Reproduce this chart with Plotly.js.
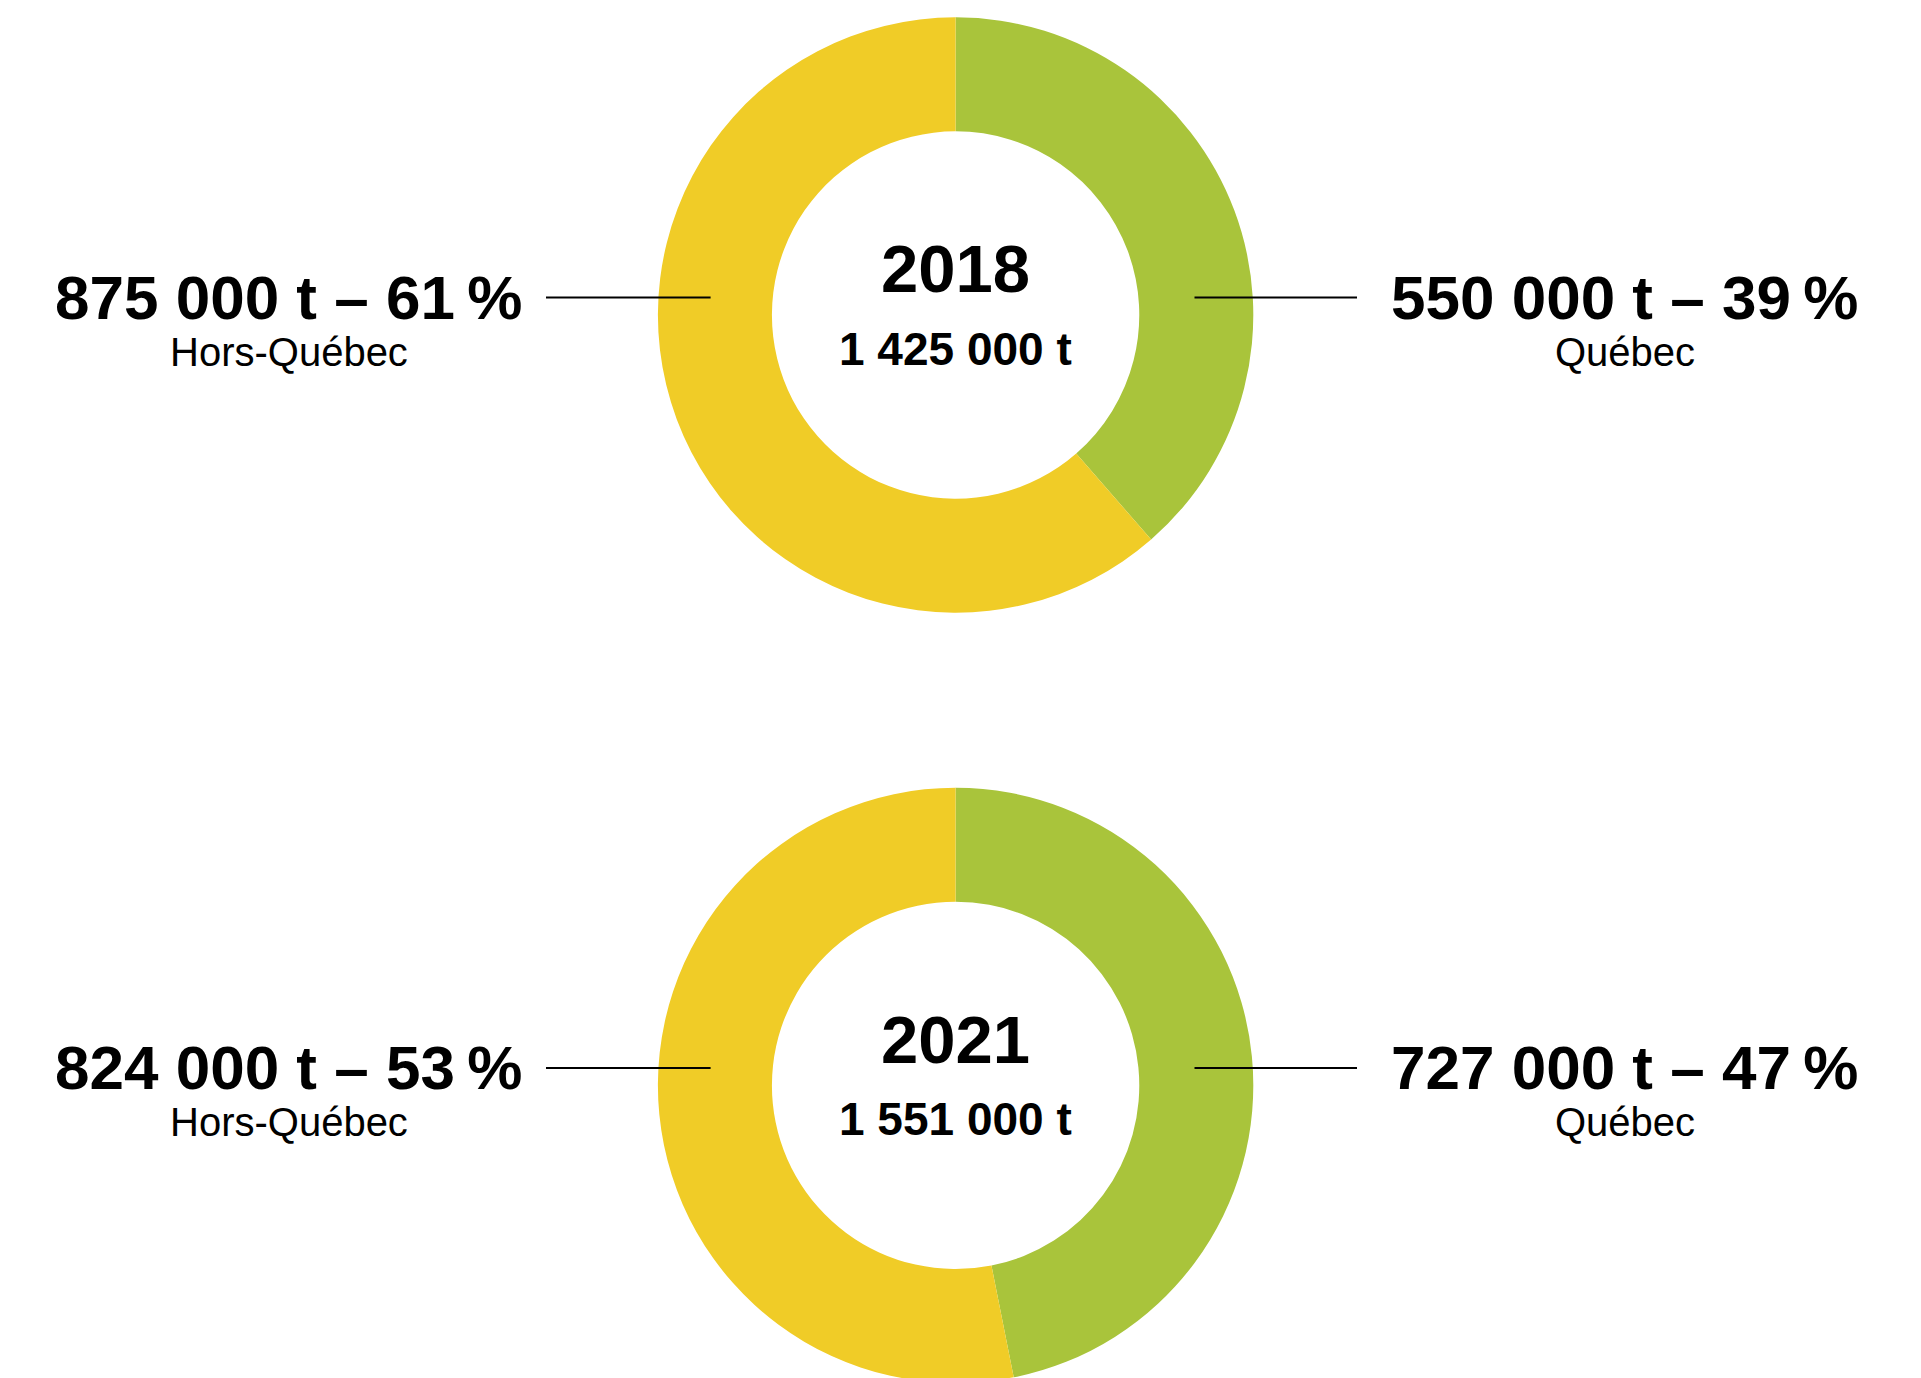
<!DOCTYPE html>
<html>
<head>
<meta charset="utf-8">
<script src="https://cdn.plot.ly/plotly-3.0.1.min.js"></script>
<style>
  html, body { margin: 0; padding: 0; background: #ffffff; overflow: hidden; }
  #chart { width: 1921px; height: 1390px; }
</style>
</head>
<body>
<div id="chart"></div>
<script>
// ---- data ----
const years = ['2018', '2021'];
const sliceLabels = ['Québec', 'Hors-Québec'];
const quebecTonnes = [550000, 727000];
const horsQuebecTonnes = [875000, 824000];
const totalTonnes = [1425000, 1551000];
const quebecPct = [39, 47];
const horsQuebecPct = [61, 53];
const sliceColors = ['#A9C43B', '#F0CC27'];

// ---- layout helpers ----
const W = 1921, H = 1390;
const px = x => x / W;
const py = y => 1 - y / H;

const R = 297.7;          // outer radius in px
const HOLE = 0.617;
const centers = [{x: 955.6, y: 315}, {x: 955.6, y: 1085.4}];

function fmt(n) {
  return String(n).replace(/\B(?=(\d{3})+(?!\d))/g, ' ');
}

const boldFont = "Futura, 'Liberation Sans', Arial, sans-serif";
const condFont = "'Liberation Sans Narrow', 'Arial Narrow', 'Liberation Sans', Arial, sans-serif";
const regFont = "'Liberation Sans', Arial, Helvetica, sans-serif";

const traces = [];
const annotations = [];
const shapes = [];

years.forEach((yr, i) => {
  const c = centers[i];
  traces.push({
    type: 'pie',
    labels: sliceLabels,
    values: [quebecTonnes[i], horsQuebecTonnes[i]],
    marker: {colors: sliceColors, line: {width: 0}},
    hole: HOLE,
    sort: false,
    direction: 'clockwise',
    rotation: 0,
    textinfo: 'none',
    hoverinfo: 'label+value+percent',
    showlegend: false,
    domain: {
      x: [px(c.x - R), px(c.x + R)],
      y: [py(c.y + R), py(c.y - R)]
    }
  });

  // center texts
  annotations.push({
    xref: 'paper', yref: 'paper', x: px(c.x), y: py(c.y - 46),
    xanchor: 'center', yanchor: 'middle', showarrow: false,
    text: '<b>' + yr + '</b>',
    font: {family: condFont, size: 67, color: '#000'}
  });
  annotations.push({
    xref: 'paper', yref: 'paper', x: px(c.x), y: py(c.y + 34),
    xanchor: 'center', yanchor: 'middle', showarrow: false,
    text: '<b>' + fmt(totalTonnes[i]) + ' t</b>',
    font: {family: condFont, size: 46, color: '#000'}
  });

  const lineY = c.y - 17.5;
  // left (Hors-Québec)
  annotations.push({
    xref: 'paper', yref: 'paper', x: px(288.5), y: py(lineY),
    xanchor: 'center', yanchor: 'middle', showarrow: false,
    text: '<b>' + fmt(horsQuebecTonnes[i]) + ' t – ' + horsQuebecPct[i] + '\u202f%</b>',
    font: {family: boldFont, size: 62, color: '#000'}
  });
  annotations.push({
    xref: 'paper', yref: 'paper', x: px(288.5), y: py(lineY + 54),
    xanchor: 'center', yanchor: 'middle', showarrow: false,
    text: sliceLabels[1],
    font: {family: regFont, size: 40, color: '#000'}
  });
  // right (Québec)
  annotations.push({
    xref: 'paper', yref: 'paper', x: px(1624.5), y: py(lineY),
    xanchor: 'center', yanchor: 'middle', showarrow: false,
    text: '<b>' + fmt(quebecTonnes[i]) + ' t – ' + quebecPct[i] + '\u202f%</b>',
    font: {family: boldFont, size: 62, color: '#000'}
  });
  annotations.push({
    xref: 'paper', yref: 'paper', x: px(1624.5), y: py(lineY + 54),
    xanchor: 'center', yanchor: 'middle', showarrow: false,
    text: sliceLabels[0],
    font: {family: regFont, size: 40, color: '#000'}
  });

  shapes.push({
    type: 'line', xref: 'paper', yref: 'paper', layer: 'above',
    x0: px(546), x1: px(710.6), y0: py(lineY), y1: py(lineY),
    line: {color: '#000', width: 2}
  });
  shapes.push({
    type: 'line', xref: 'paper', yref: 'paper', layer: 'above',
    x0: px(1194.5), x1: px(1357), y0: py(lineY), y1: py(lineY),
    line: {color: '#000', width: 2}
  });
});

const layout = {
  width: W, height: H,
  margin: {l: 0, r: 0, t: 0, b: 0, pad: 0},
  paper_bgcolor: '#ffffff',
  plot_bgcolor: '#ffffff',
  showlegend: false,
  annotations: annotations,
  shapes: shapes
};

Plotly.newPlot('chart', traces, layout, {displayModeBar: false, staticPlot: true});
</script>
</body>
</html>
